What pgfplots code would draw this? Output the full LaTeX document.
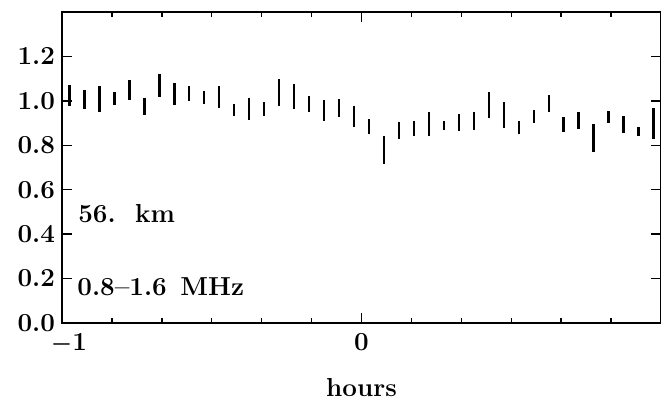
\documentclass[border=0pt]{standalone}
\usepackage{pgfplots}
\usepackage{pgfplotstable}
\pgfplotsset{compat=1.18}
\pgfplotstableread{
x y e
-0.975 1.025 0.046
-0.925 1.006 0.043
-0.875 1.008 0.057
-0.825 1.009 0.029
-0.775 1.051 0.045
-0.725 0.975 0.037
-0.675 1.070 0.053
-0.625 1.032 0.050
-0.575 1.034 0.033
-0.525 1.016 0.029
-0.475 1.017 0.051
-0.425 0.958 0.028
-0.375 0.963 0.051
-0.325 0.965 0.031
-0.275 1.037 0.062
-0.225 1.019 0.057
-0.175 0.986 0.036
-0.125 0.956 0.047
-0.075 0.968 0.039
-0.025 0.930 0.046
0.025 0.886 0.033
0.075 0.778 0.062
0.125 0.866 0.037
0.175 0.875 0.034
0.225 0.897 0.054
0.275 0.889 0.022
0.325 0.903 0.038
0.375 0.908 0.040
0.425 0.982 0.058
0.475 0.936 0.057
0.525 0.881 0.029
0.575 0.930 0.028
0.625 0.988 0.038
0.675 0.893 0.034
0.725 0.911 0.038
0.775 0.833 0.063
0.825 0.927 0.028
0.875 0.895 0.038
0.925 0.864 0.020
0.975 0.899 0.071
}\datatable
\newcommand{\labfont}{\fontsize{13}{15}\selectfont\bfseries}
\begin{document}
\begin{tikzpicture}
\begin{axis}[
  scale only axis,
  width=299.5pt, height=155.5pt,
  xmin=-1, xmax=1, ymin=0, ymax=1.4,
  axis line style={line width=0.8pt},
  tick style={black, line width=0.7pt},
  tick align=inside,
  xtick pos=both, ytick pos=both,
  major tick length=5pt, minor tick length=2.5pt,
  xtick={-1,0},
  xticklabels={\mbox{\hspace{7pt}\boldmath$-$1},0},
  minor xtick={-0.8333,-0.6667,-0.5,-0.3333,-0.1667,0.1667,0.3333,0.5,0.6667,0.8333},
  ytick={0,0.2,0.4,0.6,0.8,1.0,1.2},
  yticklabels={0.0,0.2,0.4,0.6,0.8,1.0,1.2},
  ticklabel style={font=\labfont},
  xticklabel style={yshift=-1.5pt},
  xlabel={hours},
  xlabel style={font=\labfont, at={(axis description cs:0.5,0)}, anchor=north, yshift=-24.2pt},
  clip=false,
]
\addplot[draw=none, mark=none,
  error bars/.cd, y dir=both, y explicit, error mark=none,
  error bar style={draw=black, solid, line width=1.2pt}]
  table[x=x, y=y, y error=e] {\datatable};
\node[font=\labfont, anchor=west, inner sep=0pt] at (axis cs:-0.947,0.493) {56.\ \ km};
\node[font=\labfont, anchor=west, inner sep=0pt] at (axis cs:-0.95,0.163) {0.8--1.6\hspace{0.15em} MHz};
\coordinate (sw) at (rel axis cs:0,0);
\coordinate (ne) at (rel axis cs:1,1);
\end{axis}
\pgfresetboundingbox
\path[use as bounding box] ([xshift=-31pt,yshift=-44pt]sw) rectangle ([yshift=6pt]ne);
\end{tikzpicture}
\end{document}
